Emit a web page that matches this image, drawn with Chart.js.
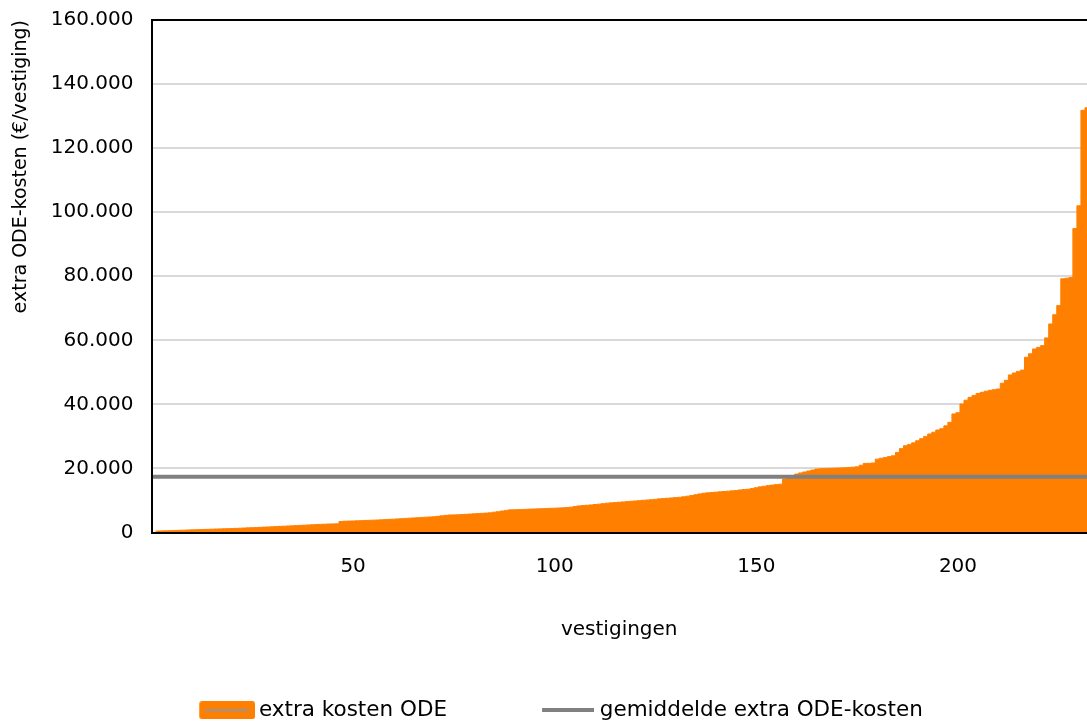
<!DOCTYPE html>
<html lang="nl">
<head>
<meta charset="UTF-8">
<title>Extra ODE-kosten per vestiging</title>
<script src="https://cdn.jsdelivr.net/npm/chart.js"></script>
<style>
    html, body { margin: 0; padding: 0; background: #fff; }
    #wrap { width: 1087px; height: 722px; }
</style>
</head>
<body>
<div id="wrap"><canvas id="odeChart"></canvas></div>
<script>
    // extra ODE-kosten per vestiging (euro), oplopend gesorteerd
    const extraKosten = [
        420, 480, 520, 560, 600, 640, 690, 730, 780, 820,
        860, 900, 950, 990, 1030, 1080, 1120, 1160, 1200, 1250,
        1290, 1340, 1400, 1460, 1510, 1560, 1620, 1680, 1740, 1800,
        1860, 1920, 1980, 2040, 2100, 2160, 2230, 2290, 2360, 2420,
        2480, 2540, 2600, 2640, 2680, 2700,
        3450, 3520, 3560, 3600,
        3650, 3700, 3760, 3800, 3850, 3900, 3960, 4020, 4100, 4160,
        4250, 4330, 4400, 4480, 4550, 4620, 4700, 4780, 4850, 4920,
        5050, 5200, 5350, 5450, 5500, 5520,
        5600, 5680, 5750, 5820, 5900, 5980, 6050, 6150, 6350,
        6500, 6700, 6900, 7070,
        7100, 7150, 7200, 7250, 7300, 7350, 7400, 7450, 7500, 7550, 7600, 7650, 7700, 7800,
        7900, 8100, 8300, 8400, 8500, 8600, 8750, 8850, 9000, 9150,
        9250, 9350, 9450, 9550, 9650, 9750, 9850, 9950, 10050, 10150, 10250, 10350, 10500,
        10600, 10700, 10800, 10900, 11000, 11150, 11350, 11550,
        11800, 12050, 12270,
        12380, 12500, 12600, 12700, 12800, 12900, 13000, 13100, 13300, 13400, 13500,
        13750, 14000, 14250, 14450, 14660,
        14800, 14950, 15100,
        16670,
        17200, 17700, 18240,
        18600, 18900, 19200, 19500, 19800,
        19900, 19950, 20000, 20050, 20100, 20150, 20200, 20300, 20400, 20500,
        21000, 21570,
        21600, 21700, 22900,
        23200, 23400, 23700, 23970,
        25000, 26200, 27100,
        27500, 28000, 28650,
        29300, 30000, 30740,
        31300, 32000, 32400,
        33300, 34390,
        37000, 37400, 40100,
        41300, 42200,
        42800, 43400, 43760, 44100, 44400, 44600, 44800,
        46600, 47500, 49200,
        49800, 50300, 50700,
        54700, 55800,
        57300, 57800, 58350,
        60750, 65100,
        68000, 70850,
        79200, 79400, 79600,
        94900, 102000, 131800, 132600
    ];
    const gemiddelde = 17400;
    const xTickWaarden = [50, 100, 150, 200];
    const yMax = 160000;
    const yStap = 20000;

    const aantal = extraKosten.length;
    const vestigingen = extraKosten.map((_, i) => i + 1);

    const oranje = '#ff7f00';
    const grijs = '#808080';

    function puntNotatie(v) {
        return String(v).replace(/\B(?=(\d{3})+(?!\d))/g, '.');
    }

    // legenda-symbolen als kleine canvassen (links transparant, zodat ze goed uitlijnen)
    function maakBlok() {
        const c = document.createElement('canvas');
        c.width = 98; c.height = 18;
        const g = c.getContext('2d');
        g.fillStyle = oranje;
        g.beginPath();
        g.roundRect(42, 0, 56, 18, 3);
        g.fill();
        g.strokeStyle = 'rgba(150,150,150,0.55)';
        g.lineWidth = 4;
        g.beginPath();
        g.moveTo(48, 9); g.lineTo(92, 9);
        g.stroke();
        return c;
    }
    function maakLijn() {
        const c = document.createElement('canvas');
        c.width = 94; c.height = 4;
        const g = c.getContext('2d');
        g.strokeStyle = grijs;
        g.lineWidth = 4;
        g.beginPath();
        g.moveTo(42, 2); g.lineTo(94, 2);
        g.stroke();
        return c;
    }
    const blokIcoon = maakBlok();
    const lijnIcoon = maakLijn();

    Chart.defaults.font.family = "'DejaVu Sans', Verdana, sans-serif";
    Chart.defaults.font.size = 20;
    Chart.defaults.color = '#000';

    const ctx = document.getElementById('odeChart').getContext('2d');
    new Chart(ctx, {
        type: 'line',
        data: {
            datasets: [{
                label: 'extra kosten ODE',
                data: vestigingen.map((v, i) => ({x: v, y: extraKosten[i]})),
                fill: 'origin',
                backgroundColor: oranje,
                borderColor: oranje,
                borderWidth: 1,
                pointRadius: 0,
                stepped: 'middle',
                order: 2
            }, {
                label: 'gemiddelde extra ODE-kosten',
                data: [{x: 0, y: gemiddelde}, {x: aantal, y: gemiddelde}],
                borderColor: grijs,
                borderWidth: 4,
                pointRadius: 0,
                fill: false,
                order: 1
            }]
        },
        options: {
            responsive: true,
            maintainAspectRatio: false,
            animation: false,
            layout: { padding: { top: 20, right: 0, bottom: -9, left: 0 } },
            scales: {
                x: {
                    type: 'linear',
                    min: 0,
                    max: aantal,
                    afterBuildTicks: axis => { axis.ticks = xTickWaarden.map(v => ({value: v})); },
                    ticks: { padding: 22, maxRotation: 0 },
                    grid: { display: false, drawTicks: false },
                    border: { display: true, color: '#000', width: 2, z: 1 },
                    title: { display: true, text: 'vestigingen', padding: { top: 17, bottom: 0 } }
                },
                y: {
                    min: 0,
                    max: yMax,
                    afterFit: axis => { axis.paddingTop = 0; },
                    ticks: { stepSize: yStap, padding: 18, callback: v => puntNotatie(v) },
                    grid: {
                        color: c => c.tick && c.tick.value === yMax ? '#000' : '#d9d9d9',
                        lineWidth: 2,
                        drawTicks: false
                    },
                    border: { display: true, color: '#000', width: 2, z: 1 },
                    title: {
                        display: true,
                        text: 'extra ODE-kosten (€/vestiging)',
                        align: 'end',
                        font: { size: 19 },
                        padding: { top: 10, bottom: 0 }
                    }
                }
            },
            plugins: {
                tooltip: { enabled: false },
                legend: {
                    position: 'bottom',
                    labels: {
                        usePointStyle: true,
                        pointStyleWidth: 84,
                        boxHeight: 17,
                        padding: 58,
                        font: { size: 21.5 },
                        generateLabels: chart => chart.data.datasets.map((ds, i) => ({
                            text: ds.label,
                            pointStyle: i === 0 ? blokIcoon : lijnIcoon,
                            fillStyle: ds.borderColor,
                            strokeStyle: ds.borderColor,
                            lineWidth: 0,
                            hidden: false,
                            datasetIndex: i
                        }))
                    }
                }
            }
        }
    });
</script>
</body>
</html>
